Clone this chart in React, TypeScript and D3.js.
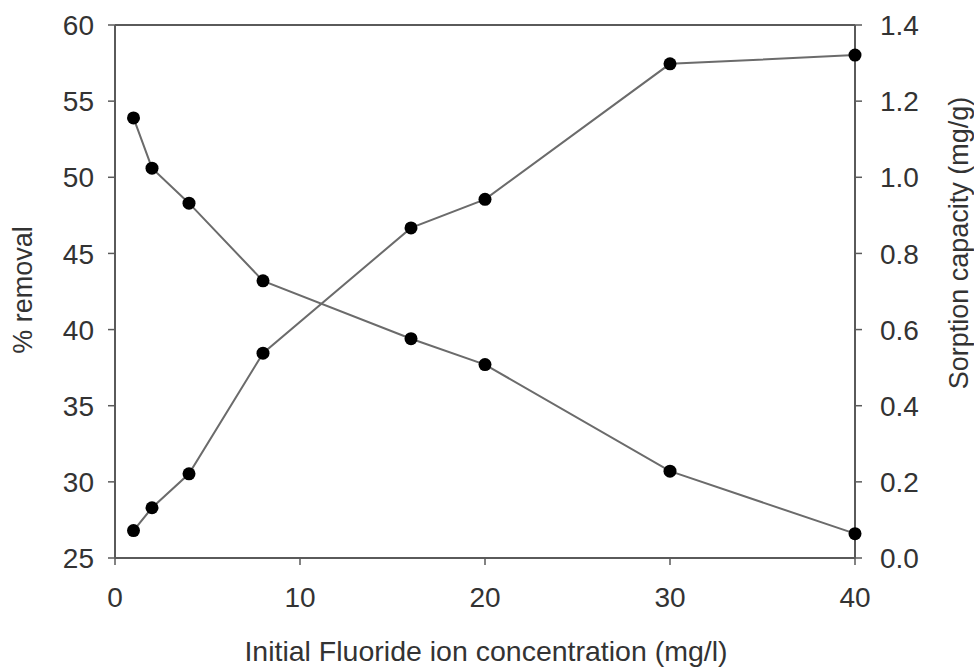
import React from 'react';
import * as d3 from 'd3';

const concentrations = [1, 2, 4, 8, 16, 20, 30, 40];
const removalPct = [53.9, 50.6, 48.3, 43.2, 39.4, 37.7, 30.7, 26.6];
const sorptionCap = [0.072, 0.132, 0.221, 0.538, 0.867, 0.942, 1.298, 1.321];

const xTicks = [0, 10, 20, 30, 40];
const leftTicks = [25, 30, 35, 40, 45, 50, 55, 60];
const rightTicks = [0, 0.2, 0.4, 0.6, 0.8, 1.0, 1.2, 1.4];

export default function App() {
    const width = 974, height = 667;
    const m = { left: 115, right: 855, top: 25, bottom: 558 };
    const x = d3.scaleLinear().domain([0, 40]).range([m.left, m.right]);
    const yL = d3.scaleLinear().domain([25, 60]).range([m.bottom, m.top]);
    const yR = d3.scaleLinear().domain([0, 1.4]).range([m.bottom, m.top]);

    const removal = concentrations.map((c, i) => ({ c, v: removalPct[i] }));
    const sorption = concentrations.map((c, i) => ({ c, v: sorptionCap[i] }));

    const lineL = d3.line<{ c: number; v: number }>().x(d => x(d.c)).y(d => yL(d.v));
    const lineR = d3.line<{ c: number; v: number }>().x(d => x(d.c)).y(d => yR(d.v));

    const axisColor = '#5a5a5a';
    const textColor = '#333';
    const font = '"Liberation Sans", Arial, sans-serif';
    const tick = 7;

    return (
        <svg width={width} height={height} style={{ position: 'absolute', left: 0, top: 0, background: '#fff' }}
            fontFamily={font}>
            {/* frame */}
            <line x1={m.left} x2={m.right} y1={m.top} y2={m.top} stroke={axisColor} strokeWidth={2} />
            <line x1={m.left} x2={m.right} y1={m.bottom} y2={m.bottom} stroke={axisColor} strokeWidth={2} />
            <line x1={m.left} x2={m.left} y1={m.top} y2={m.bottom} stroke={axisColor} strokeWidth={2} />
            <line x1={m.right} x2={m.right} y1={m.top} y2={m.bottom} stroke={axisColor} strokeWidth={2} />

            {/* bottom axis */}
            {xTicks.map(t => (
                <g key={'x' + t}>
                    <line x1={x(t)} x2={x(t)} y1={m.bottom} y2={m.bottom + tick} stroke={axisColor} strokeWidth={1.5} />
                    <text x={x(t)} y={607} textAnchor="middle" fontSize={28} fill={textColor}>{t}</text>
                </g>
            ))}
            {/* left axis */}
            {leftTicks.map(t => (
                <g key={'l' + t}>
                    <line x1={m.left - tick} x2={m.left} y1={yL(t)} y2={yL(t)} stroke={axisColor} strokeWidth={1.5} />
                    <text x={94} y={yL(t)} dy="0.36em" textAnchor="end" fontSize={28} fill={textColor}>{t}</text>
                </g>
            ))}
            {/* right axis */}
            {rightTicks.map(t => (
                <g key={'r' + t}>
                    <line x1={m.right} x2={m.right + tick} y1={yR(t)} y2={yR(t)} stroke={axisColor} strokeWidth={1.5} />
                    <text x={880} y={yR(t)} dy="0.36em" textAnchor="start" fontSize={28} fill={textColor}>{t.toFixed(1)}</text>
                </g>
            ))}

            {/* axis titles */}
            <text x={486} y={661} textAnchor="middle" fontSize={28.5} fill={textColor}>
                Initial Fluoride ion concentration (mg/l)
            </text>
            <text transform="translate(32,290) rotate(-90)" textAnchor="middle" fontSize={27} fill={textColor}>
                % removal
            </text>
            <text transform="translate(968,243) rotate(-90)" textAnchor="middle" fontSize={27} fill={textColor}>
                Sorption capacity (mg/g)
            </text>

            {/* series */}
            <path d={lineL(removal) ?? ''} fill="none" stroke="#6b6b6b" strokeWidth={2} />
            <path d={lineR(sorption) ?? ''} fill="none" stroke="#6b6b6b" strokeWidth={2} />
            {removal.map((d, i) => (
                <circle key={'pl' + i} cx={x(d.c)} cy={yL(d.v)} r={6.5} fill="#000" />
            ))}
            {sorption.map((d, i) => (
                <circle key={'pr' + i} cx={x(d.c)} cy={yR(d.v)} r={6.5} fill="#000" />
            ))}
        </svg>
    );
}
